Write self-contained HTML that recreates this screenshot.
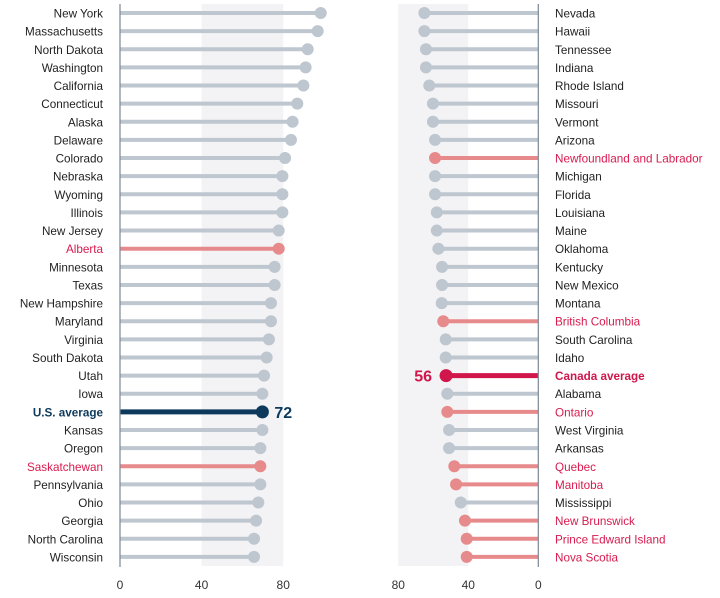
<!DOCTYPE html>
<html><head><meta charset="utf-8"><style>
body{margin:0;background:#fff;}
svg{display:block;font-family:"Liberation Sans",sans-serif;}
</style></head><body>
<svg id="chart" width="720" height="598"></svg>
<script>
const usNames=["New York","Massachusetts","North Dakota","Washington","California","Connecticut","Alaska","Delaware","Colorado","Nebraska","Wyoming","Illinois","New Jersey","Alberta","Minnesota","Texas","New Hampshire","Maryland","Virginia","South Dakota","Utah","Iowa","U.S. average","Kansas","Oregon","Saskatchewan","Pennsylvania","Ohio","Georgia","North Carolina","Wisconsin"];
const usValues=[98.4,96.9,92,91,89.9,86.9,84.6,83.8,80.9,79.6,79.6,79.6,77.8,77.8,75.8,75.8,74,74,73,71.9,70.6,69.8,69.8,69.8,68.8,68.8,68.8,67.8,66.7,65.7,65.7];
const usKinds=["s","s","s","s","s","s","s","s","s","s","s","s","s","p","s","s","s","s","s","s","s","s","a","s","s","p","s","s","s","s","s"];
const caNames=["Nevada","Hawaii","Tennessee","Indiana","Rhode Island","Missouri","Vermont","Arizona","Newfoundland and Labrador","Michigan","Florida","Louisiana","Maine","Oklahoma","Kentucky","New Mexico","Montana","British Columbia","South Carolina","Idaho","Canada average","Alabama","Ontario","West Virginia","Arkansas","Quebec","Manitoba","Mississippi","New Brunswick","Prince Edward Island","Nova Scotia"];
const caValues=[65.1,65.1,64.2,64.2,62.3,60.2,60.2,59,59,59,59,58,58,57.1,55,55,55.2,54.3,52.9,52.9,52.7,52,52,51,51,48,47,44.3,41.9,40.9,40.9];
const caKinds=["s","s","s","s","s","s","s","s","p","s","s","s","s","s","s","s","s","p","s","s","a","s","p","s","s","p","p","s","p","p","p"];
const usAvgLabel="72", caAvgLabel="56";
const leftTicks=[0,40,80], rightTicks=[80,40,0];

const NS="http://www.w3.org/2000/svg";
const svg=document.getElementById('chart');
function mk(tag,attrs,parent){const e=document.createElementNS(NS,tag);for(const k in attrs)e.setAttribute(k,attrs[k]);(parent||svg).appendChild(e);return e;}
const xL=v=>120+v*2.04;
const xR=v=>538.3-v*1.75;
const yRow=i=>13+i*18.13;

let b=mk('rect',{x:xL(40),y:4,width:xL(80)-xL(40),height:562,fill:'#f3f3f5'});


b=mk('rect',{x:xR(80),y:4,width:xR(40)-xR(80),height:562,fill:'#f3f3f5'});



const col={s:'#bec6cf',p:'#e78a8b'};
function drawSeries(names,vals,kinds,xf,side){
  names.forEach((n,i)=>{
    const y=yRow(i),k=kinds[i];
    let c=k==='a'?(side==='us'?'#0d3a5c':'#d0164a'):col[k];
    const g=mk('g',{});
    
    
    mk('line',{x1:xf(0),x2:xf(vals[i]),y1:y,y2:y,stroke:c,'stroke-width':k==='a'?5:4},g);
    mk('circle',{cx:xf(vals[i]),cy:y,r:k==='a'?6.5:6,fill:c},g);
    const tc=k==='s'?'#222':(k==='p'?'#d81b4e':(side==='us'?'#0d3a5c':'#d0164a'));
    const t=mk('text',{x:side==='us'?103:555,y:y+4.5,'font-size':11.7,fill:tc,'text-anchor':side==='us'?'end':'start','font-weight':k==='a'?'bold':'normal'},g);
    t.textContent=n;
    if(k==='a'){
      const v=mk('text',{x:side==='us'?xf(vals[i])+12:xf(vals[i])-14,y:y+6,'font-size':16,'font-weight':'bold',fill:c,'text-anchor':side==='us'?'start':'end'},g);
      v.textContent=side==='us'?usAvgLabel:caAvgLabel;
    }
  });
}
drawSeries(usNames,usValues,usKinds,xL,'us');
drawSeries(caNames,caValues,caKinds,xR,'ca');

let a=mk('line',{x1:120,x2:120,y1:4,y2:567,stroke:'#7b8794','stroke-width':1.2});


a=mk('line',{x1:538.3,x2:538.3,y1:4,y2:567,stroke:'#7b8794','stroke-width':1.2});



leftTicks.forEach(t=>{const e=mk('text',{x:xL(t),y:589,'font-size':12,fill:'#333','text-anchor':'middle'});e.textContent=t;

});
rightTicks.forEach(t=>{const e=mk('text',{x:xR(t),y:589,'font-size':12,fill:'#333','text-anchor':'middle'});e.textContent=t;

});
</script>
</body></html>
